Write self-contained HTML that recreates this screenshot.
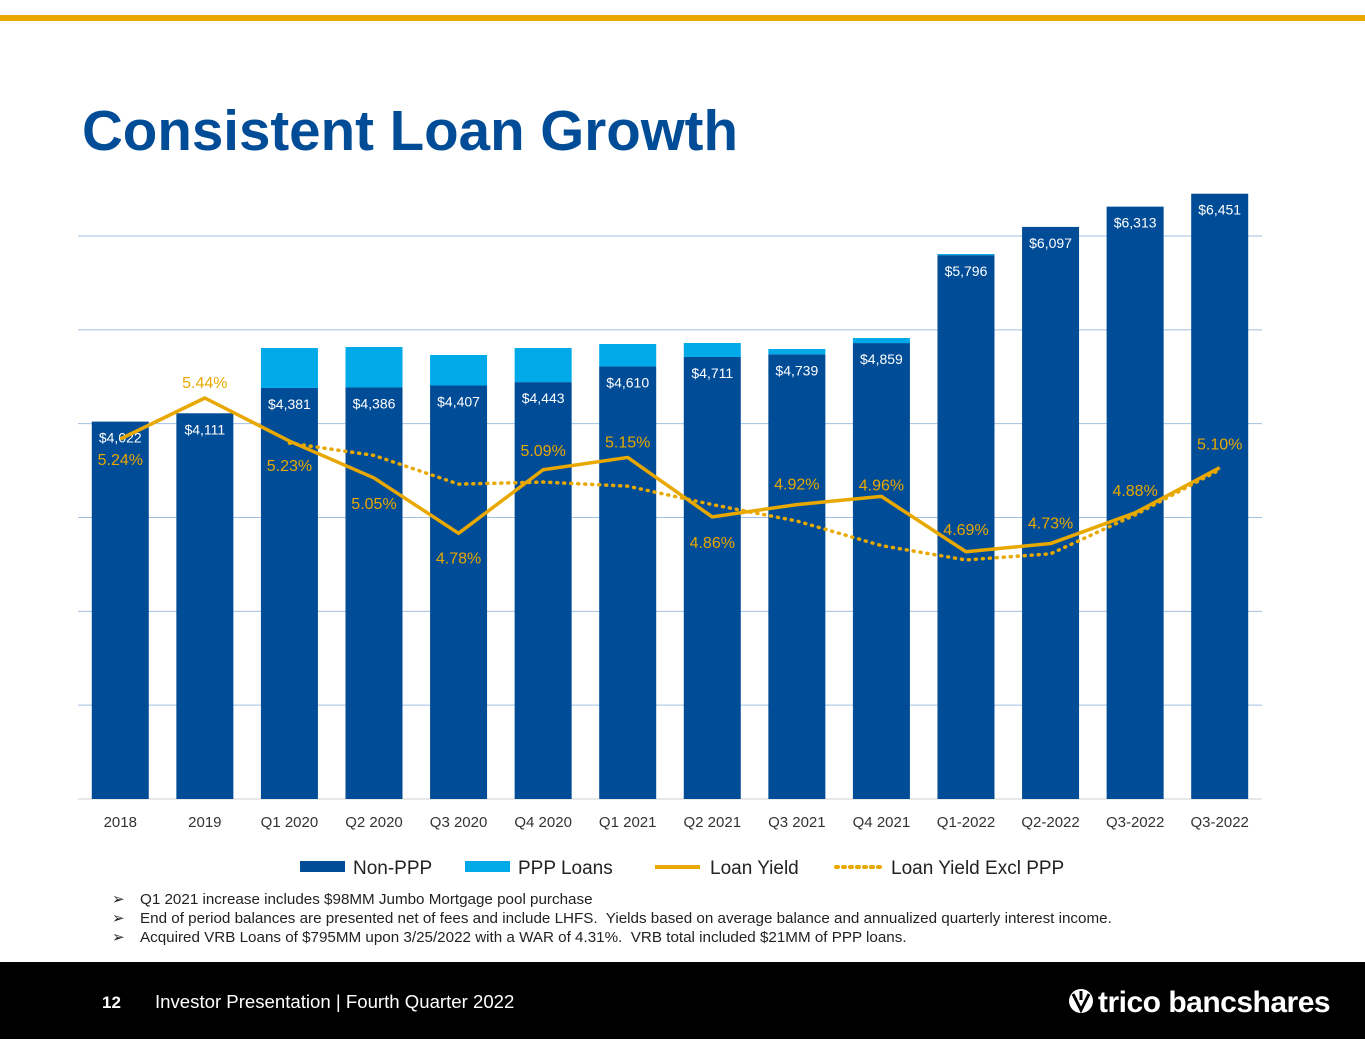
<!DOCTYPE html>
<html><head><meta charset="utf-8"><style>
body{margin:0;width:1365px;height:1055px;background:#fff;font-family:"Liberation Sans",Arial,sans-serif;overflow:hidden;position:relative}
</style></head><body>
<svg width="1365" height="1055" style="position:absolute;left:0;top:0">
<rect x="0" y="15" width="1365" height="6" fill="#E8A800"/>
<text x="82" y="150" font-size="56.5" font-weight="bold" fill="#004C97">Consistent Loan Growth</text>
<g id="chart"></g>
<g font-size="19" fill="#222">
<g><rect x="300" y="861" width="45" height="11" fill="#004C97"/><text x="353" y="874">Non-PPP</text></g>
<g><rect x="465" y="861" width="45" height="11" fill="#00A9E8"/><text x="518" y="874">PPP Loans</text></g>
<g><line x1="655" y1="867" x2="700" y2="867" stroke="#E8A800" stroke-width="4"/><text x="710" y="874">Loan Yield</text></g>
<g><line x1="836" y1="867" x2="882" y2="867" stroke="#E8A800" stroke-width="4" stroke-dasharray="2 5" stroke-linecap="round"/><text x="891" y="874">Loan Yield Excl PPP</text></g>
</g>
<g font-size="15.2" fill="#222">
<text x="112" y="904">➢</text><text x="140" y="904">Q1 2021 increase includes $98MM Jumbo Mortgage pool purchase</text>
<text x="112" y="923">➢</text><text x="140" y="923" xml:space="preserve">End of period balances are presented net of fees and include LHFS.  Yields based on average balance and annualized quarterly interest income.</text>
<text x="112" y="942">➢</text><text x="140" y="942" xml:space="preserve">Acquired VRB Loans of $795MM upon 3/25/2022 with a WAR of 4.31%.  VRB total included $21MM of PPP loans.</text>
</g>
<rect x="0" y="962" width="1365" height="77" fill="#000"/>
<text x="102" y="1008" font-size="17" font-weight="bold" fill="#fff">12</text>
<text x="155" y="1008" font-size="18.6" fill="#fff">Investor Presentation | Fourth Quarter 2022</text>
<g>
<circle cx="1081" cy="1001" r="12" fill="#fff"/><path d="M1073 994 L1081 1010 L1089 994 M1081 991 L1081 1000" stroke="#000" stroke-width="3" fill="none"/>
<text x="1098" y="1012" font-size="30" font-weight="bold" fill="#fff" letter-spacing="-0.5">trico bancshares</text>
</g>
</svg>
<script>
const categories=["2018","2019","Q1 2020","Q2 2020","Q3 2020","Q4 2020","Q1 2021","Q2 2021","Q3 2021","Q4 2021","Q1-2022","Q2-2022","Q3-2022","Q3-2022"];
const nonPPP=[4022,4111,4381,4386,4407,4443,4610,4711,4739,4859,5796,6097,6313,6451];
const pppLoans=[0,0,425,431,325,363,239,149,57,54,12,0,0,0];
const loanYield=[5.24,5.44,5.23,5.05,4.78,5.09,5.15,4.86,4.92,4.96,4.69,4.73,4.88,5.10];
const loanYieldExcl=[null,null,5.22,5.16,5.02,5.03,5.01,4.92,4.84,4.72,4.65,4.68,4.87,5.09];
const gridTicks=[0,1000,2000,3000,4000,5000,6000];
const labelDy=[20,-16,24,25,24,-20,-16,25,-21,-12,-23,-21,-23,-24];
const NS="http://www.w3.org/2000/svg";
const g=document.getElementById('chart');
const x0=78,step=84.57,barW=57,base=799;
const xs=i=>x0+step*(i+0.5);
const yb=v=>base-v*0.09383;
const yy=v=>398+(5.44-v)*205;
function mk(t,a){const e=document.createElementNS(NS,t);for(const k in a)e.setAttribute(k,a[k]);g.appendChild(e);return e;}
gridTicks.forEach(t=>{const e=mk('line',{x1:78,x2:1262,y1:yb(t),y2:yb(t),stroke:t===0?'#d0d0d0':'#9fc0e0','stroke-width':1});

});
categories.forEach((c,i)=>{
 const b=mk('rect',{x:xs(i)-barW/2,y:yb(nonPPP[i]),width:barW,height:base-yb(nonPPP[i]),fill:'#004C97'});
 
 
 if(pppLoans[i]>0){const p=mk('rect',{x:xs(i)-barW/2,y:yb(nonPPP[i]+pppLoans[i]),width:barW,height:yb(nonPPP[i])-yb(nonPPP[i]+pppLoans[i]),fill:'#00A9E8'});
 
 }
 const l=mk('text',{x:xs(i),y:yb(nonPPP[i])+21,'text-anchor':'middle','font-size':14,fill:'#fff'});l.textContent='$'+nonPPP[i].toLocaleString('en-US');
 
 
 const xl=mk('text',{x:xs(i),y:827,'text-anchor':'middle','font-size':15,fill:'#333'});xl.textContent=c;
 
 
});
let d2='';loanYieldExcl.forEach((v,i)=>{if(v!=null)d2+=(d2?'L':'M')+xs(i)+' '+yy(v);});
const ex=mk('path',{d:d2,fill:'none',stroke:'#E8A800','stroke-width':3.5,'stroke-dasharray':'1 6','stroke-linecap':'round'});


const d1=loanYield.map((v,i)=>(i?'L':'M')+xs(i)+' '+yy(v)).join('');
const ly=mk('path',{d:d1,fill:'none',stroke:'#E8A800','stroke-width':3.5,'stroke-linejoin':'round'});


loanYield.forEach((v,i)=>{const t=mk('text',{x:xs(i),y:yy(v)+labelDy[i]+6,'text-anchor':'middle','font-size':16,fill:'#E8A800'});t.textContent=v.toFixed(2)+'%';
 
 });
</script>
</body></html>
